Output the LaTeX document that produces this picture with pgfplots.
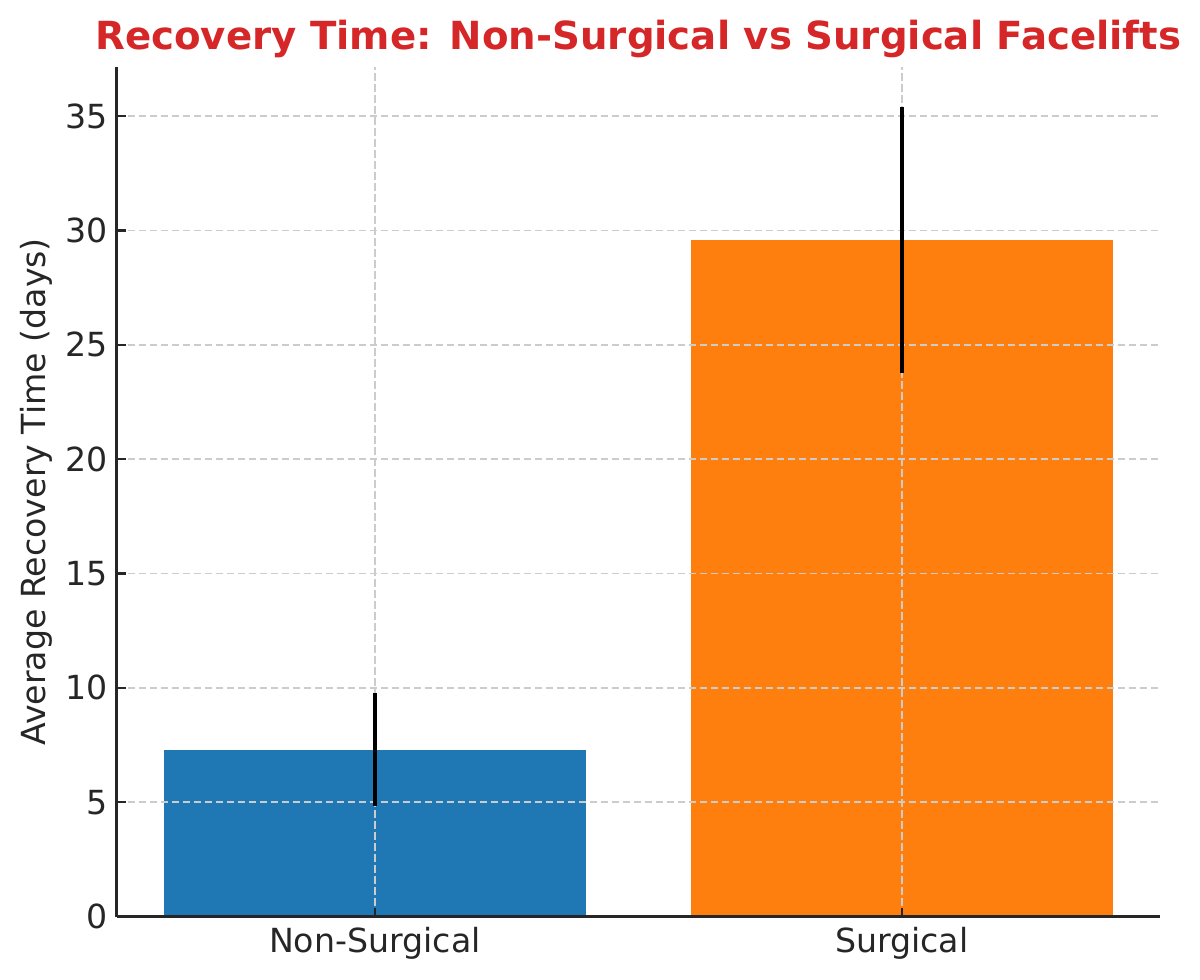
\documentclass[border=0pt]{standalone}
\usepackage{pgfplots}
\pgfplotsset{compat=1.18}
\usepackage{fontspec}
\setmainfont{DejaVu Sans}
\definecolor{c1}{HTML}{1F77B4}
\definecolor{c2}{HTML}{FF7F0E}
\definecolor{tred}{HTML}{D62728}
\definecolor{txt}{HTML}{262626}
\definecolor{gridc}{HTML}{CCCCCC}
\pgfplotsset{
  layers/mine/.define layer set={axis background,pre main,axis grid,main,axis ticks,axis lines,axis tick labels,axis descriptions,axis foreground}{/pgfplots/layers/standard},
}
\begin{document}
\begin{tikzpicture}
\begin{axis}[
  at={(58.3pt,31.7pt)}, anchor=south west,
  scale only axis, width=521.7pt, height=424.8pt,
  set layers=mine,
  xmin=-0.49, xmax=1.49, ymin=0, ymax=37.14,
  axis x line=bottom, axis y line=left,
  axis line style={-, line width=1.2pt, color=txt},
  xtick={0,1}, xticklabels={Non-Surgical,Surgical},
  ytick={0,5,...,35},
  tick align=inside, major tick length=4.5pt,
  tick style={line width=1.2pt, color=txt},
  grid=major,
  major grid style={gridc, line width=0.8pt, dash pattern=on 3.7pt off 1.8pt},
  ticklabel style={font=\fontsize{16.6}{19}\selectfont, text=txt},
  xticklabel style={yshift=-2pt},
  yticklabel style={xshift=-0.8pt},
  /pgf/number format/assume math mode=true,
  ylabel={Average Recovery Time (days)},
  ylabel style={font=\fontsize{16.6}{19}\selectfont, text=txt, at={(axis description cs:-0.0769,0.5)}, anchor=center},
  title={Recovery Time: Non-Surgical vs Surgical Facelifts},
  title style={font=\bfseries\fontsize{19.35}{23}\selectfont, text=tred, at={(axis description cs:0.5,1)}, anchor=base, yshift=2.5pt},
]
\addplot[on layer=pre main, ybar, bar width=0.8, bar shift=0pt, fill=c1, draw=none] coordinates {(0,7.28)};
\addplot[on layer=pre main, ybar, bar width=0.8, bar shift=0pt, fill=c2, draw=none] coordinates {(1,29.58)};
\addplot[draw=none, mark=none, forget plot,
  error bars/.cd, y dir=both, y explicit, error mark=none,
  error bar style={draw=black, line width=2pt}]
  coordinates {(0,7.3) +- (0,2.47) (1,29.58) +- (0,5.81)};
\end{axis}
\pgfresetboundingbox
\path[use as bounding box] (0,0) rectangle (600pt,490pt);
\end{tikzpicture}
\end{document}
